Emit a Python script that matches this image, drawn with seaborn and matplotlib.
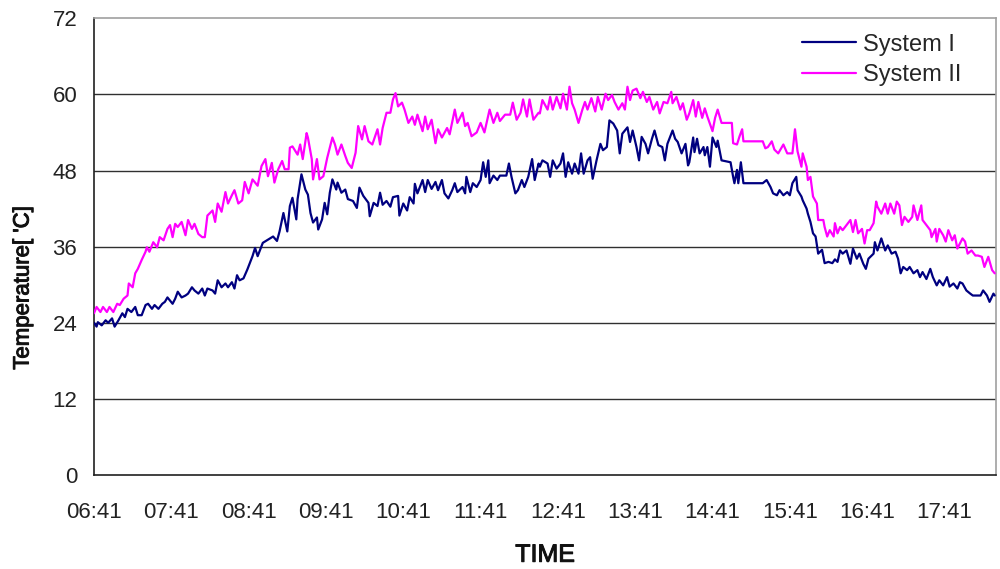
import matplotlib
matplotlib.use("Agg")
import matplotlib.pyplot as plt
import matplotlib.patheffects as pe
import seaborn as sns
import pandas as pd

# Minutes elapsed since 06:41 and measured temperatures ['C]
sys1_minutes = [
    0, 2, 3, 6, 9, 11, 14, 16, 19, 22, 24, 26, 29, 32, 34, 37, 40, 42, 45, 47,
    50, 53, 55, 57, 61, 63, 65, 68, 71, 73, 76, 78, 81, 84, 86, 88, 92, 94, 96, 99,
    102, 104, 107, 109, 111, 113,
    116, 119, 123, 125, 127, 131, 135, 139, 142, 144, 147, 150, 152, 154, 157, 158,
    161, 164, 166, 168, 170, 173, 174, 177, 179, 181, 183, 185, 188, 189, 192, 195,
    197, 201, 204, 206, 209, 213, 214, 217, 220, 222, 224, 227,
    230, 232, 236, 237, 240, 243, 245, 248, 249, 251, 255, 257, 259, 262, 265, 267,
    270, 272, 275, 278, 280, 282, 286, 288, 289, 292, 294, 297, 300, 302, 304, 306,
    307, 310, 313, 315, 317, 320, 322, 324, 327, 329, 332, 334, 337, 340, 342, 345,
    346, 348, 352, 354, 356, 359, 362, 364, 366, 368, 371, 373, 376, 378, 380, 383,
    385, 387, 390, 393, 395, 398, 400, 403, 406, 408, 410, 414, 416, 418, 421, 423,
    425, 428, 430, 433, 435, 438, 441, 443, 445, 449, 451, 453, 456, 459, 461,
    462, 465, 466, 468, 470, 473, 474, 476, 478, 480, 483, 484, 487, 494, 496, 497,
    499, 500, 502, 504, 519, 522, 525, 527, 530, 532, 535, 538, 540, 542, 545, 546,
    549, 550, 553, 554, 556, 558, 560, 562, 565, 567, 570, 573, 575, 577,
    579, 581, 584, 587, 589, 592, 594, 597, 599, 601, 605, 606, 608, 611, 614, 616,
    619, 622, 624, 626, 628, 631, 633, 636, 639, 641, 643, 646, 649, 651, 654, 656,
    659, 662, 664, 667, 670, 672, 674, 677, 680, 682, 685, 688, 690, 693, 695, 698,
    699,
]
sys1_temp = [
    24.0, 23.4, 24.1, 23.6, 24.4, 24.0, 24.7, 23.4, 24.4, 25.5, 24.9, 26.2, 25.7, 26.5,
    25.2, 25.2, 26.8, 27.0, 26.2, 26.8, 26.2, 27.0, 27.3, 28.0, 27.0, 27.8, 28.9, 28.0,
    28.3, 28.6, 29.6, 29.1, 28.6, 29.4, 28.3, 29.4, 29.1, 28.6, 30.7, 29.6, 30.2, 29.6,
    30.4, 29.4, 31.5, 30.7,
    31.0, 32.4, 34.5, 35.8, 34.5, 36.6, 37.1, 37.6, 36.9, 38.4, 41.3, 38.4, 42.4, 43.7,
    40.3, 43.5, 47.4, 45.0, 44.2, 41.3, 39.8, 40.6, 38.7, 40.3, 42.9, 41.1, 44.5, 46.6,
    45.0, 46.1, 44.5, 45.0, 43.5, 43.2, 42.1, 45.3, 44.0, 42.9, 40.8, 42.9, 42.4, 44.5,
    42.6, 43.2,
    42.3, 43.8, 44.0, 40.9, 42.8, 41.7, 43.8, 42.8, 45.9, 44.4, 46.5, 44.6, 46.5, 45.1,
    46.2, 44.9, 46.5, 44.4, 43.6, 44.9, 46.0, 44.6, 45.4, 44.4, 47.0, 44.6, 46.0, 45.4,
    46.5, 49.3, 47.0, 49.6, 46.0, 47.2, 46.5, 47.2, 47.2, 47.2, 49.1, 47.0, 44.4, 44.9,
    46.5, 45.4, 47.0, 49.8, 46.5, 49.1,
    48.6, 49.6, 49.1, 47.0, 49.6, 48.3, 49.1, 50.7, 47.0, 49.3, 47.5, 49.1, 47.5, 50.7,
    47.5, 49.6, 50.1, 46.7, 49.6, 52.2, 51.2, 51.7, 55.9, 55.4, 54.3, 50.7, 53.8, 54.8,
    52.5, 54.3, 51.7, 49.6, 53.3, 52.2, 50.7, 53.0, 54.3, 52.0, 51.7, 49.6, 52.2, 54.3,
    53.0, 52.5, 50.7, 52.2, 48.8,
    49.3, 53.2, 50.9, 53.0, 50.7, 51.7, 50.4, 51.7, 48.6, 53.2, 51.7, 52.7, 49.6, 49.3,
    47.0, 46.0, 48.1, 46.0, 49.3, 46.0, 46.0, 46.5, 45.4, 44.4, 44.1, 44.9, 44.1, 44.6,
    44.1, 46.0, 47.0, 44.9, 43.9, 43.3, 42.0, 41.2, 39.9, 38.1, 37.6, 34.9, 35.5, 33.4,
    33.6, 33.4, 34.0, 33.6,
    35.4, 34.9, 35.4, 33.3, 35.7, 34.1, 34.9, 33.3, 32.5, 34.1, 34.9, 36.7, 35.4, 37.3,
    35.4, 36.2, 34.9, 35.2, 34.1, 31.8, 32.8, 32.3, 32.8, 31.8, 32.3, 31.2, 32.0, 30.9,
    32.5, 31.2, 29.9, 30.7, 29.9, 31.2, 29.7, 30.2, 29.4, 30.4, 30.2, 29.1, 28.6, 28.3,
    28.3, 28.3, 29.1, 28.3, 27.3, 28.6, 28.3,
]

sys2_minutes = [
    0, 2, 5, 7, 10, 12, 15, 18, 20, 23, 26, 27, 30, 32, 34, 37, 40, 41, 43, 46,
    49, 51, 54, 57, 59, 61, 63, 65, 68, 71, 73, 76, 78, 81, 84, 86, 88, 92, 94, 96,
    99, 102, 104, 107, 109, 112, 115, 117, 120,
    123, 127, 130, 133, 135, 138, 140, 143, 146, 148, 151, 152, 154, 158, 160, 162,
    165, 166, 169, 170, 173, 175, 178, 181, 185, 187, 189, 192, 195, 197, 200, 203,
    205, 208, 210, 213, 216, 220, 222, 224, 227,
    230, 232, 234, 236, 239, 241, 244, 247, 249, 251, 255, 257, 259, 262, 265, 267,
    270, 274, 276, 280, 282, 286, 288, 290, 293, 297, 300, 303, 307, 310, 313, 315,
    319, 323, 325, 328, 331, 333, 336, 338, 341, 345,
    346, 348, 352, 354, 356, 359, 362, 364, 367, 369, 371, 373, 376, 379, 381, 383,
    386, 389, 391, 394, 397, 399, 402, 404, 407, 410, 412, 414, 416, 418, 421, 424,
    426, 429, 431, 434, 437, 439, 442, 445, 448, 449, 452, 455, 457, 460,
    462, 465, 467, 469, 472, 474, 476, 480, 482, 484, 487, 495, 496, 499, 501, 503,
    504, 519, 521, 523, 526, 528, 531, 535, 538, 542, 544, 546, 549, 550, 553, 554,
    556, 558, 561, 562, 566, 567, 569, 571, 574, 575, 577,
    579, 581, 584, 587, 589, 591, 593, 596, 598, 600, 602, 605, 607, 608, 611, 614,
    616, 618, 621, 623, 625, 627, 629, 632, 635, 636, 639, 642, 643, 646, 649, 650,
    653, 654, 656, 659, 661, 663, 666, 668, 670, 674, 676, 678, 681, 684, 686, 689,
    691, 694, 697, 699,
]
sys2_temp = [
    25.5, 26.5, 25.7, 26.5, 25.7, 26.5, 25.7, 27.0, 26.8, 27.8, 28.3, 30.2, 29.6, 31.8,
    32.5, 33.9, 35.2, 35.9, 35.2, 36.7, 35.9, 37.5, 37.0, 38.8, 39.4, 37.5, 39.6, 39.1,
    39.9, 37.8, 40.2, 38.8, 39.6, 38.0, 37.5, 37.5, 40.9, 41.7, 39.9, 42.8, 41.5, 44.6,
    42.8, 44.1, 44.9, 42.8, 43.3, 46.2, 44.4,
    46.6, 45.6, 48.7, 49.8, 47.1, 49.2, 46.1, 48.2, 49.5, 48.2, 48.2, 51.6, 51.8, 50.5,
    52.1, 49.8, 53.9, 53.2, 49.8, 46.6, 49.8, 46.6, 47.1, 50.0, 53.2, 52.1, 50.5, 52.1,
    50.3, 49.2, 48.4, 50.8, 55.0, 52.9, 55.0, 52.6, 52.1, 54.5, 52.1, 54.7, 57.1,
    57.1, 59.2, 60.2, 58.1, 58.7, 57.6, 55.5, 56.5, 55.2, 56.8, 54.2, 56.5, 54.5, 56.0,
    52.3, 54.5, 53.2, 54.7, 53.7, 57.6, 55.5, 57.1, 55.0, 55.5, 53.4, 54.0, 55.5, 54.0,
    57.6, 55.5, 57.1, 55.8, 56.8, 56.8, 58.7, 56.0, 57.1, 59.2, 56.5, 59.2, 56.0, 57.1,
    57.0, 59.1, 57.6, 59.6, 57.6, 59.6, 57.8, 60.1, 57.6, 61.2, 58.6, 57.6, 55.5, 57.6,
    58.8, 57.6, 59.4, 57.3, 59.6, 57.6, 60.1, 59.1, 59.9, 58.8, 57.6, 58.6, 57.6, 61.2,
    59.1, 60.6, 60.9, 59.4, 60.4, 58.8, 59.6, 57.6, 58.8, 57.0, 58.8, 58.6, 60.4, 58.6,
    59.6, 57.6, 58.6, 56.0,
    57.0, 59.1, 56.5, 58.8, 56.3, 57.8, 56.5, 54.2, 56.3, 57.6, 55.5, 55.5, 52.3, 52.1,
    53.4, 54.5, 52.6, 52.6, 51.5, 51.7, 52.6, 51.3, 50.7, 52.1, 50.7, 50.7, 54.5, 51.0,
    48.6, 50.7, 48.6, 46.5, 47.0, 43.9, 42.8, 40.2, 40.2, 39.1, 37.6, 38.6, 37.6, 39.7,
    38.1,
    39.1, 38.6, 39.4, 40.2, 38.3, 40.2, 38.1, 38.8, 36.5, 38.6, 38.6, 39.7, 43.1, 42.3,
    41.2, 42.8, 41.2, 42.8, 41.2, 43.1, 42.5, 39.4, 40.7, 39.9, 40.7, 42.5, 40.2, 42.5,
    40.2, 39.4, 38.6, 37.5, 38.8, 36.8, 38.8, 37.8, 36.8, 38.6, 37.0, 37.8, 35.7, 37.3,
    36.8, 34.9, 35.4, 34.6, 34.6, 34.4, 32.8, 34.4, 32.3, 31.8,
]

tick_minutes = [0, 60, 120, 180, 240, 300, 360, 420, 480, 540, 600, 660]
tick_labels = ["06:41", "07:41", "08:41", "09:41", "10:41", "11:41",
               "12:41", "13:41", "14:41", "15:41", "16:41", "17:41"]
y_ticks = [0, 12, 24, 36, 48, 60, 72]

series_names = ["System I", "System II"]
series_colors = ["#000080", "#FF00FF"]

df = pd.concat([
    pd.DataFrame({"minute": sys1_minutes, "temp": sys1_temp, "series": series_names[0]}),
    pd.DataFrame({"minute": sys2_minutes, "temp": sys2_temp, "series": series_names[1]}),
], ignore_index=True)

sns.set_theme(style="white")
plt.rcParams["font.family"] = ["Liberation Sans", "DejaVu Sans"]

fig = plt.figure(figsize=(10, 5.69), dpi=100)
ax = fig.add_axes([0.094, 0.165, 0.902, 0.803])

# horizontal reference lines drawn beneath the series
for yv in y_ticks[1:-1]:
    ax.axhline(yv, color="#303030", linewidth=1.0, zorder=1)

sns.lineplot(data=df, x="minute", y="temp", hue="series",
             palette=dict(zip(series_names, series_colors)),
             estimator=None, sort=False, linewidth=1.6, ax=ax, zorder=3)

ax.set_xlim(0, 700)
ax.set_ylim(0, 72)
ax.set_xticks(tick_minutes)
ax.set_xticklabels(tick_labels)
ax.set_yticks(y_ticks)
ax.tick_params(axis="x", direction="in", length=7, width=1, color="#303030",
               pad=19, labelsize=16, labelcolor="#222222")
ax.tick_params(axis="y", length=0, pad=12, labelsize=16, labelcolor="#222222")

for side in ["left", "bottom"]:
    ax.spines[side].set_color("#202020")
    ax.spines[side].set_linewidth(1.2)
for side in ["top", "right"]:
    ax.spines[side].set_color("#a0a0a0")
    ax.spines[side].set_linewidth(1.2)

thick = [pe.withStroke(linewidth=0.7, foreground="#111111")]
ax.set_xlabel("TIME", fontsize=18, color="#111111", path_effects=thick)
ax.xaxis.set_label_coords(0.5, -0.148)
ax.set_ylabel("Temperature[ 'C]", fontsize=16, color="#111111", path_effects=thick)
ax.yaxis.set_label_coords(-0.067, 0.41)

handles, labels = ax.get_legend_handles_labels()
ax.legend(handles, labels, loc="upper right", frameon=False, fontsize=17,
          handlelength=2.3, handletextpad=0.3, labelspacing=0.35,
          borderpad=0.0, borderaxespad=0.0, bbox_to_anchor=(0.962, 0.966))

fig.savefig("out.png", dpi=100)
